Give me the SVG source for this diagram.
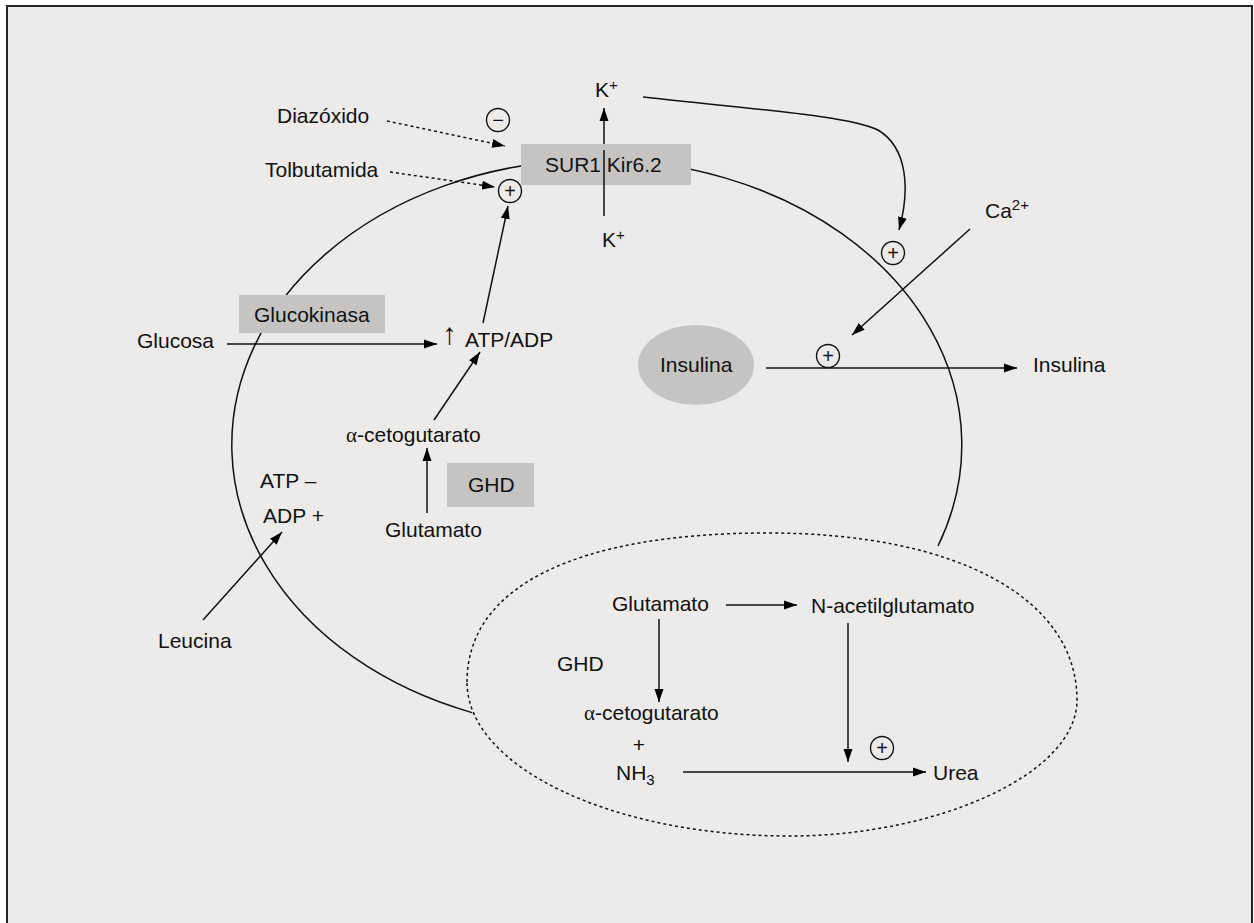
<svg xmlns="http://www.w3.org/2000/svg" width="1254" height="923" viewBox="0 0 1254 923">
<defs>
<marker id="ah" markerWidth="14" markerHeight="10" refX="13" refY="5" orient="auto" markerUnits="userSpaceOnUse"><path d="M0,0.5 L13,5 L0,9.5 z" fill="#000"/></marker>
<style>
text{font-family:"Liberation Sans",Arial,sans-serif;font-size:21px;fill:#111}
.ln{stroke:#111;stroke-width:1.5;fill:none}
.dot{stroke:#111;stroke-width:1.5;fill:none;stroke-dasharray:3 3}
.box{fill:#C5C4C3}
.pm{fill:none;stroke:#111;stroke-width:1.4}
.sg{font-family:"Liberation Serif","Times New Roman",serif}
.sup{font-size:15px}
.sym{font-size:20px;text-anchor:middle}
</style>
</defs>
<rect x="0" y="0" width="1254" height="923" fill="#fff"/>
<rect x="7" y="6" width="1245" height="930" fill="#ECEBE9" stroke="#222" stroke-width="2"/>

<g id="cell">
<path class="ln" d="M 938 546 A 365 285 0 1 0 472 712.6"/>
</g>
<g id="mitochondria">
<path class="dot" d="M 467 682 C 467 587 575 533 768 533 C 960 533 1077 600 1077 700 C 1077 775 935 836 790 836 C 612 836 467 767 467 682 Z"/>
</g>

<g id="connectors">
<line class="dot" x1="387" y1="121" x2="505" y2="146" marker-end="url(#ah)"/>
<line class="dot" x1="390" y1="172" x2="495" y2="187" marker-end="url(#ah)"/>
<line class="ln" x1="604" y1="216" x2="604" y2="108" marker-end="url(#ah)"/>
<line class="ln" x1="483" y1="323" x2="508" y2="206" marker-end="url(#ah)"/>
<path class="ln" d="M 643 97 C 760 110 850 116 878 130 C 908 148 910 190 899 230" marker-end="url(#ah)"/>
<line class="ln" x1="970" y1="229" x2="852" y2="335" marker-end="url(#ah)"/>
<line class="ln" x1="766" y1="368" x2="1017" y2="368" marker-end="url(#ah)"/>
<line class="ln" x1="227" y1="344" x2="437" y2="344" marker-end="url(#ah)"/>
<line class="ln" x1="434" y1="420" x2="480" y2="352" marker-end="url(#ah)"/>
<line class="ln" x1="427" y1="513" x2="427" y2="448" marker-end="url(#ah)"/>
<line class="ln" x1="203" y1="620" x2="282" y2="532" marker-end="url(#ah)"/>
<line class="ln" x1="726" y1="605" x2="797" y2="605" marker-end="url(#ah)"/>
<line class="ln" x1="659" y1="619" x2="659" y2="702" marker-end="url(#ah)"/>
<line class="ln" x1="848" y1="623" x2="848" y2="762" marker-end="url(#ah)"/>
<line class="ln" x1="683" y1="772" x2="926" y2="772" marker-end="url(#ah)"/>
</g>

<g id="sur1-kir62">
<rect class="box" x="521" y="144" width="170" height="41"/>
<line class="ln" x1="604" y1="150" x2="604" y2="185"/>
<text x="545" y="172">SUR1 Kir6.2</text>
</g>
<g id="k-out"><text x="595" y="97">K<tspan class="sup" dy="-7">+</tspan></text></g>
<g id="k-in"><text x="602" y="247">K<tspan class="sup" dy="-7">+</tspan></text></g>
<g id="diazoxido"><text x="277" y="123">Diazóxido</text></g>
<g id="tolbutamida"><text x="265" y="177">Tolbutamida</text></g>
<g id="minus1"><circle class="pm" cx="498" cy="120" r="11.5"/><text class="sym" x="498" y="127">−</text></g>
<g id="plus1"><circle class="pm" cx="510" cy="191" r="11.5"/><text class="sym" x="510" y="198">+</text></g>
<g id="plus2"><circle class="pm" cx="893" cy="253" r="11.5"/><text class="sym" x="893" y="260">+</text></g>
<g id="plus3"><circle class="pm" cx="828" cy="356" r="11.5"/><text class="sym" x="828" y="363">+</text></g>
<g id="plus4"><circle class="pm" cx="882" cy="748" r="11.5"/><text class="sym" x="882" y="755">+</text></g>
<g id="ca"><text x="985" y="218">Ca<tspan class="sup" dy="-8">2+</tspan></text></g>
<g id="insulina-in">
<ellipse class="box" cx="696" cy="365" rx="58" ry="40"/>
<text x="660" y="372">Insulina</text>
</g>
<g id="insulina-out"><text x="1033" y="372">Insulina</text></g>
<g id="glucokinasa">
<rect class="box" x="239" y="295" width="146" height="38"/>
<text x="254" y="322">Glucokinasa</text>
</g>
<g id="glucosa"><text x="137" y="348">Glucosa</text></g>
<g id="atpadp"><text x="442" y="344" style="font-size:30px">↑</text><text x="465" y="347">ATP/ADP</text></g>
<g id="akg1"><text x="346" y="442"><tspan class="sg">α</tspan>-cetogutarato</text></g>
<g id="ghd1">
<rect class="box" x="447" y="463" width="87" height="44"/>
<text x="468" y="492">GHD</text>
</g>
<g id="glutamato1"><text x="385" y="537">Glutamato</text></g>
<g id="atp-adp"><text x="260" y="488">ATP –</text><text x="263" y="523">ADP +</text></g>
<g id="leucina"><text x="158" y="648">Leucina</text></g>
<g id="glutamato2"><text x="612" y="611">Glutamato</text></g>
<g id="nag"><text x="811" y="613">N-acetilglutamato</text></g>
<g id="ghd2"><text x="557" y="671">GHD</text></g>
<g id="akg2"><text x="584" y="720"><tspan class="sg">α</tspan>-cetogutarato</text></g>
<g id="plus-nh3"><text x="639" y="752" text-anchor="middle">+</text></g>
<g id="nh3"><text x="616" y="780">NH<tspan class="sup" dy="5">3</tspan></text></g>
<g id="urea"><text x="933" y="780">Urea</text></g>
</svg>
